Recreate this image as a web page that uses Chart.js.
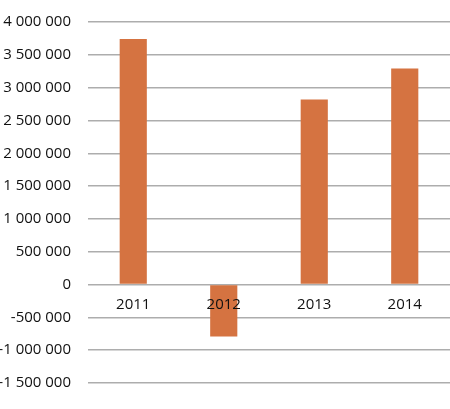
<!DOCTYPE html>
<html lang="en">
<head>
  <meta charset="UTF-8" />
  <title>Bar chart</title>
  <script src="https://cdn.jsdelivr.net/npm/chart.js@4.4.1/dist/chart.umd.min.js"></script>
  <style>
    html, body { margin: 0; padding: 0; background: #fff; }
    #chart { display: block; }
  </style>
</head>
<body>
  <canvas id="chart" width="450" height="409"></canvas>
  <script>
    // data
    var years = ['2011', '2012', '2013', '2014'];
    var values = [3740000, -790000, 2820000, 3290000];
    var yMin = -1500000;
    var yMax = 4000000;
    var yStep = 500000;

    // "3 500 000" style, space as thousands separator
    function formatNumber(v) {
      var s = Math.abs(Math.round(v)).toString().replace(/\B(?=(\d{3})+(?!\d))/g, ' ');
      return (v < 0 ? '-' : '') + s;
    }

    var ctx = document.getElementById('chart').getContext('2d');
    new Chart(ctx, {
      type: 'bar',
      data: {
        labels: years,
        datasets: [{
          data: values,
          backgroundColor: 'rgb(213, 115, 65)',
          borderWidth: 0,
          barPercentage: 0.3,
          categoryPercentage: 1.0
        }]
      },
      options: {
        responsive: false,
        animation: false,
        layout: { padding: { top: 22, bottom: 26, left: 0, right: 0 } },
        plugins: {
          legend: { display: false },
          tooltip: { enabled: false }
        },
        scales: {
          x: {
            position: { y: 0 },
            grid: { display: false },
            border: { display: false },
            ticks: {
              z: 1, // labels over the negative bar
              color: '#111',
              padding: 3,
              font: { family: 'Open Sans', size: 15 }
            }
          },
          y: {
            min: yMin,
            max: yMax,
            afterFit: function (scale) { scale.width = 88; },
            // invisible tick marks give the gap between labels and grid
            grid: { color: '#adadad', lineWidth: 1.5, drawTicks: true, tickLength: 17, tickColor: 'rgba(0,0,0,0)' },
            border: { display: false },
            ticks: {
              stepSize: yStep,
              padding: 0,
              color: '#111',
              font: { family: 'Open Sans', size: 15 },
              callback: function (v) { return formatNumber(v); }
            }
          }
        }
      }
    });
  </script>
</body>
</html>
